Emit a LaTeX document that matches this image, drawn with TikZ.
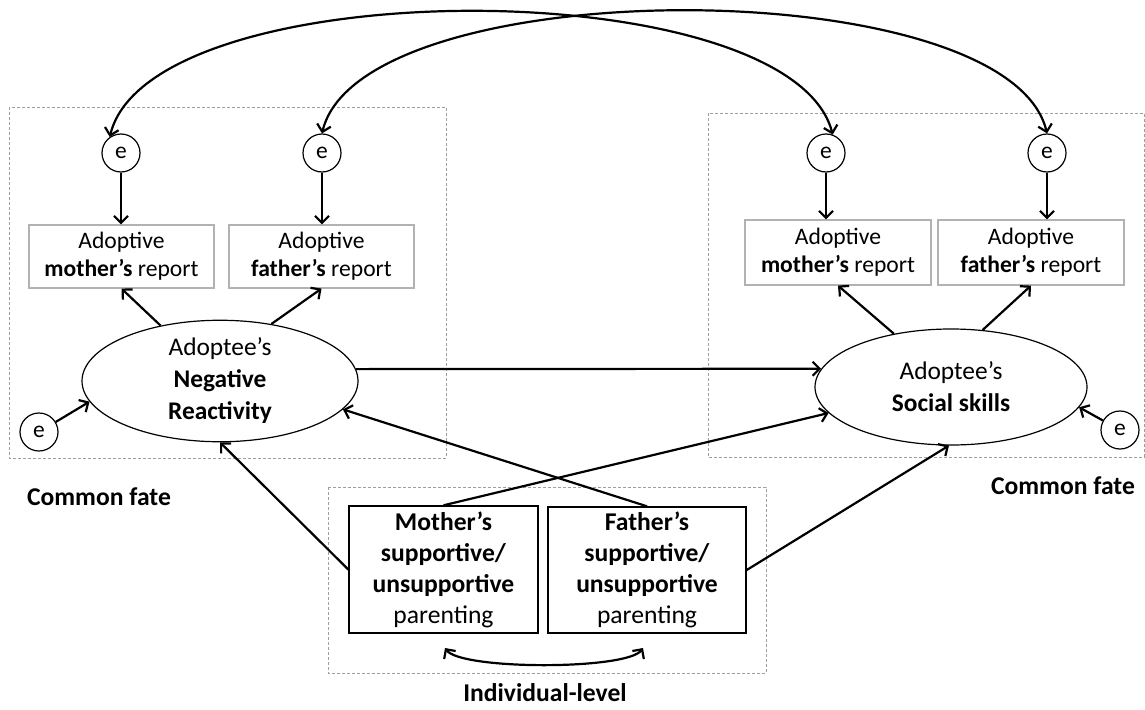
\documentclass[tikz,border=0pt]{standalone}
\usepackage{fontspec}
\setmainfont{Carlito}
\usetikzlibrary{shapes.geometric,arrows.meta}
\begin{document}
\begin{tikzpicture}[x=1pt,y=-1pt,
  tip/.tip={Straight Barb[length=7pt,width=14pt]},
  arr/.style={line width=2.2pt,-tip},
  dbl/.style={line width=2.2pt,tip-tip},
  err/.style={circle,draw,line width=1.2pt,minimum size=38pt,inner sep=0pt,font=\fontsize{23.5}{26}\selectfont},
  rep/.style={draw=gray!60,line width=1.2pt,inner sep=0pt,align=center,font=\fontsize{23.6}{28}\selectfont},
  lat/.style={ellipse,draw,line width=1.2pt,inner sep=0pt,align=center,font=\fontsize{25.4}{32}\selectfont},
  par/.style={draw,line width=1.4pt,inner sep=0pt,align=center,font=\fontsize{25.6}{31}\selectfont},
  grp/.style={draw=gray!75,line width=0.9pt,dash pattern=on 3pt off 2pt},
  lab/.style={font=\bfseries\fontsize{25.6}{28}\selectfont}
]
\useasboundingbox (0,0) rectangle (1145,709);

% group frames
\draw[grp] (9,107) rectangle (446,458);
\draw[grp] (708,113) rectangle (1144,457);
\draw[grp] (328,487) rectangle (766,673);

% labels
\node[lab] (cfl) at (99,497) {Common fate};
\node[lab] (cfr) at (1063,486) {Common fate};
\node[lab] (ind) at (545,693) {Individual-level};

% error terms
\node[err] (e1) at (121,153) {e};
\node[err] (e2) at (322,153) {e};
\node[err] (e3) at (826,153) {e};
\node[err] (e4) at (1047,153) {e};
\node[err] (e5) at (39,432) {e};
\node[err] (e6) at (1120,430) {e};

% report boxes
\node[rep,minimum width=185pt,minimum height=63pt] (b1) at (121.5,256.5) {Adoptive\\\textbf{mother’s} report};
\node[rep,minimum width=185pt,minimum height=63pt] (b2) at (321.5,256.5) {Adoptive\\\textbf{father’s} report};
\node[rep,minimum width=186pt,minimum height=65pt] (b3) at (838,252.5) {Adoptive\\\textbf{mother’s} report};
\node[rep,minimum width=186pt,minimum height=65pt] (b4) at (1031,252.5) {Adoptive\\\textbf{father’s} report};

% latent variables
\node[lat,minimum width=276pt,minimum height=111pt] (NR) at (220,381) {Adoptee’s\\\textbf{Negative}\\\textbf{Reactivity}};
\node[lat,minimum width=272pt,minimum height=116pt] (SS) at (951,387) {Adoptee’s\\\textbf{Social skills}};

% parenting boxes
\node[par,minimum width=189pt,minimum height=127pt] (M) at (443.5,569.5) {\textbf{Mother’s}\\\textbf{supportive/}\\\textbf{unsupportive}\\parenting};
\node[par,minimum width=198pt,minimum height=126pt] (F) at (647,570) {\textbf{Father’s}\\\textbf{supportive/}\\\textbf{unsupportive}\\parenting};

% residual arrows
\draw[arr] (e1) -- (e1 |- b1.north);
\draw[arr] (e2) -- (e2 |- b2.north);
\draw[arr] (e3) -- (e3 |- b3.north);
\draw[arr] (e4) -- (e4 |- b4.north);
\draw[arr] (e5) -- (NR.189);
\draw[arr] (e6) -- (SS.351);

% loadings
\draw[arr] (NR.137) -- (b1.south);
\draw[arr] (NR.48) -- (b2.south);
\draw[arr] (SS.137) -- (b3.south);
\draw[arr] (SS.61) -- (b4.south);

% structural paths
\draw[arr] (NR.5) -- (SS.172);
\draw[arr] (M.west) -- (NR.south);
\draw[arr] (M.north) -- (SS.192);
\draw[arr] (F.north) -- (NR.347);
\draw[arr] (F.east) -- (SS.268);

% covariances
\draw[dbl] (e1.125) .. controls (150,-30) and (790,-30) .. (e3.70);
\draw[dbl] (e2.north) .. controls (361,-30) and (1008,-30) .. (e4.north);
\coordinate (mc) at (445,648);
\coordinate (fc) at (643,648);
\draw[dbl] (mc) to[out=-55,in=-125,looseness=0.35] (fc);
\end{tikzpicture}
\end{document}
